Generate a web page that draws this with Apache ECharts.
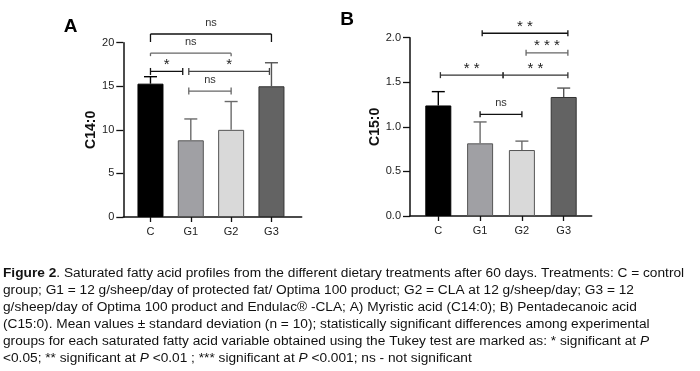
<!DOCTYPE html>
<html>
<head>
<meta charset="utf-8">
<script src="https://cdn.jsdelivr.net/npm/echarts@6/dist/echarts.min.js"></script>
<style>
  html, body { margin: 0; padding: 0; background: #fff; }
  #chart { width: 700px; height: 371px; }
</style>
</head>
<body>
<div id="chart"></div>
<script>
// groups on the x axis
const groups = ['C', 'G1', 'G2', 'G3']

// A) C14:0 mean and SD
const c14Mean = [15.3, 8.8, 10.0, 15.0]
const c14Sd = [0.8, 2.45, 3.25, 2.7]

// B) C15:0 mean and SD
const c15Mean = [1.24, 0.815, 0.74, 1.335]
const c15Sd = [0.155, 0.24, 0.1, 0.1]

// significance brackets: [from, to, level, label]
const c14Brackets = [
  [0, 3, 21.0, 'ns'],
  [0, 2, 18.8, 'ns'],
  [0, 0.8, 16.7, '*'],
  [0.95, 2.95, 16.7, '*'],
  [0.95, 2, 14.45, 'ns']
]
const c15Brackets = [
  [1.05, 3.1, 2.05, '**'],
  [2.1, 3.1, 1.83, '***'],
  [0.05, 1.55, 1.58, '**'],
  [1.55, 3.1, 1.58, '**'],
  [1, 2, 1.14, 'ns']
]

const captionLines = [
  '{b|Figure 2}. Saturated fatty acid profiles from the different dietary treatments after 60 days. Treatments: C = control',
  'group; G1 = 12 g/sheep/day of protected fat/ Optima 100 product; G2 = CLA at 12 g/sheep/day; G3 = 12',
  'g/sheep/day of Optima 100 product and Endulac® -CLA; A) Myristic acid (C14:0); B) Pentadecanoic acid',
  '(C15:0). Mean values ± standard deviation (n = 10); statistically significant differences among experimental',
  'groups for each saturated fatty acid variable obtained using the Tukey test are marked as: * significant at {i|P}',
  '<0.05; ** significant at {i|P} <0.01 ; *** significant at {i|P} <0.001; ns - not significant'
]

const FONT = '"Liberation Sans", Arial, Helvetica, sans-serif'
const fills = ['#000000', '#a0a0a4', '#d9d9d9', '#636363']
const borders = ['#000000', '#555555', '#555555', '#333333']
const errColors = ['#000000', '#6a6a6a', '#6a6a6a', '#555555']

// bracket looks: [tickUp, tickDown, color]
const c14Looks = [[0, 8, '#111'], [0, 3, '#666'], [3.5, 3.5, '#111'], [3.5, 3.5, '#444'], [3.5, 3.5, '#666']]
const c15Looks = [[3, 3, '#111'], [3, 3, '#666'], [3, 3, '#333'], [3, 3, '#333'], [3, 3, '#111']]

const chart = echarts.init(document.getElementById('chart'))

function xAxisFor(gridIndex, min, max) {
  return {
    gridIndex: gridIndex,
    type: 'value',
    min: min,
    max: max,
    axisLine: { show: true, onZero: false, lineStyle: { color: '#111', width: 1.5 } },
    axisTick: { show: true, customValues: [0, 1, 2, 3], length: 5, lineStyle: { color: '#111', width: 1.3 } },
    axisLabel: {
      customValues: [0, 1, 2, 3],
      formatter: (v) => groups[Math.round(v)] || '',
      margin: 9,
      fontSize: 11,
      fontFamily: FONT,
      color: '#222'
    },
    splitLine: { show: false }
  }
}

function yAxisFor(gridIndex, max, interval, name, gap) {
  return {
    gridIndex: gridIndex,
    type: 'value',
    min: 0,
    max: max,
    interval: interval,
    name: name,
    nameLocation: 'middle',
    nameGap: gap,
    nameTextStyle: { fontWeight: 'bold', fontSize: 14, fontFamily: FONT, color: '#111' },
    axisLine: { show: true, onZero: false, lineStyle: { color: '#111', width: 1.5 } },
    axisTick: { show: true, length: 7, lineStyle: { color: '#111', width: 1.3 } },
    axisLabel: {
      margin: 9,
      fontSize: 11,
      fontFamily: FONT,
      color: '#222',
      formatter: (v) => (max < 5 ? v.toFixed(1) : String(v))
    },
    splitLine: { show: false }
  }
}

function barSeries(idx, means) {
  return {
    type: 'bar',
    xAxisIndex: idx,
    yAxisIndex: idx,
    barWidth: 26,
    z: 2,
    data: means.map((m, i) => ({
      value: [i, m],
      itemStyle: { color: fills[i], borderColor: borders[i], borderWidth: 1 }
    }))
  }
}

function errorSeries(idx, means, sds) {
  return {
    type: 'custom',
    xAxisIndex: idx,
    yAxisIndex: idx,
    z: 3,
    data: means.map((m, i) => [i, m, m + sds[i]]),
    renderItem: (params, api) => {
      const i = api.value(0)
      const p0 = api.coord([i, api.value(1)])
      const p1 = api.coord([i, api.value(2)])
      const st = { stroke: errColors[i], lineWidth: 1.4 }
      return {
        type: 'group',
        children: [
          { type: 'line', shape: { x1: p0[0], y1: p0[1], x2: p1[0], y2: p1[1] }, style: st },
          { type: 'line', shape: { x1: p1[0] - 6.5, y1: p1[1], x2: p1[0] + 6.5, y2: p1[1] }, style: st }
        ]
      }
    }
  }
}

function bracketSeries(idx, brackets, looks) {
  return {
    type: 'custom',
    xAxisIndex: idx,
    yAxisIndex: idx,
    z: 4,
    clip: false,
    data: brackets.map((b) => [b[0], b[1], b[2]]),
    renderItem: (params, api) => {
      const k = params.dataIndex
      const look = looks[k]
      const label = brackets[k][3]
      const a = api.coord([api.value(0), api.value(2)])
      const b = api.coord([api.value(1), api.value(2)])
      const st = { stroke: look[2], lineWidth: 1.3 }
      const isStar = label.indexOf('*') >= 0
      return {
        type: 'group',
        children: [
          { type: 'line', shape: { x1: a[0], y1: a[1], x2: b[0], y2: b[1] }, style: st },
          { type: 'line', shape: { x1: a[0], y1: a[1] - look[0], x2: a[0], y2: a[1] + look[1] }, style: st },
          { type: 'line', shape: { x1: b[0], y1: b[1] - look[0], x2: b[0], y2: b[1] + look[1] }, style: st },
          {
            type: 'text',
            x: (a[0] + b[0]) / 2,
            y: a[1] - (isStar ? 6.5 : 11),
            style: {
              text: isStar ? label.split('').join(' ') : label,
              fontSize: isStar ? 15 : 11,
              fontFamily: FONT,
              fill: isStar ? '#222' : '#333',
              align: 'center',
              verticalAlign: 'middle'
            }
          }
        ]
      }
    }
  }
}

const option = {
  animation: false,
  backgroundColor: '#fff',
  grid: [
    { left: 123.3, top: 42.7, width: 178.4, height: 174.3 },
    { left: 410, top: 37.7, width: 181.7, height: 178.3 }
  ],
  xAxis: [xAxisFor(0, -0.674, 3.75), xAxisFor(1, -0.677, 3.67)],
  yAxis: [yAxisFor(0, 20, 5, 'C14:0', 18.5), yAxisFor(1, 2, 0.5, 'C15:0', 27.5)],
  series: [
    barSeries(0, c14Mean),
    errorSeries(0, c14Mean, c14Sd),
    bracketSeries(0, c14Brackets, c14Looks),
    barSeries(1, c15Mean),
    errorSeries(1, c15Mean, c15Sd),
    bracketSeries(1, c15Brackets, c15Looks)
  ],
  graphic: [
    {
      type: 'text', x: 70.5, y: 27,
      style: { text: 'A', fontSize: 19, fontWeight: 'bold', fontFamily: FONT, fill: '#000', align: 'center', verticalAlign: 'middle' }
    },
    {
      type: 'text', x: 347, y: 20,
      style: { text: 'B', fontSize: 19, fontWeight: 'bold', fontFamily: FONT, fill: '#000', align: 'center', verticalAlign: 'middle' }
    },
    {
      type: 'text', x: 3, y: 265, scaleX: 1.096,
      style: {
        text: captionLines.join('\n'),
        fontSize: 12.5,
        lineHeight: 17,
        fontFamily: FONT,
        fill: '#111',
        verticalAlign: 'top',
        rich: {
          b: { fontWeight: 'bold', fontSize: 12.5, lineHeight: 17, fontFamily: FONT, fill: '#111' },
          i: { fontStyle: 'italic', fontSize: 12.5, lineHeight: 17, fontFamily: FONT, fill: '#111' }
        }
      }
    }
  ]
}

chart.setOption(option)
</script>
</body>
</html>
